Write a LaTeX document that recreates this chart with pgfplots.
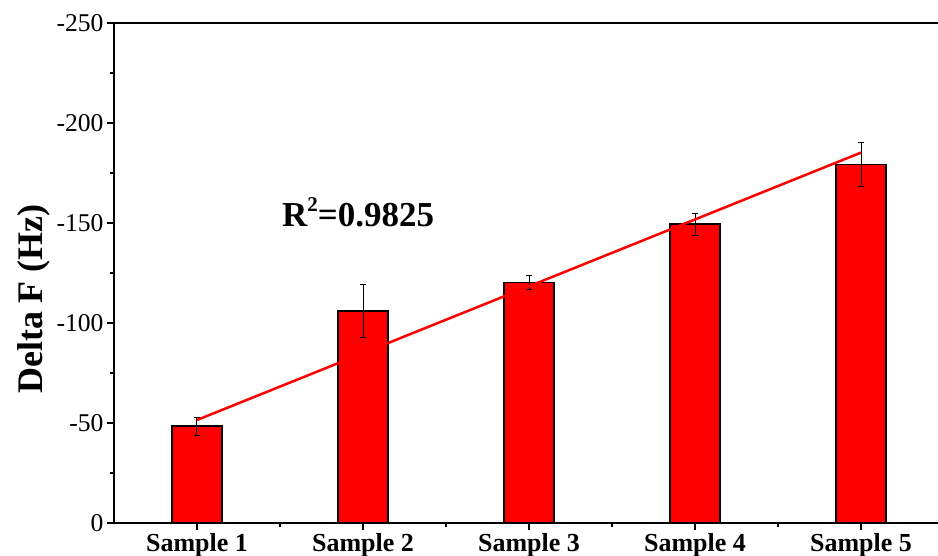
\documentclass[border=0pt]{standalone}
\usepackage{pgfplots}
\pgfplotsset{compat=1.18}
\usepackage{fontspec}
\setmainfont{Liberation Serif}
\begin{document}
\begin{tikzpicture}
\begin{axis}[
  scale only axis, width=830bp, height=500bp,
  xmin=0.5, xmax=5.5, ymin=-250, ymax=0, y dir=reverse,
  axis x line*=box, axis y line*=left,
  xtick={1,2,3,4,5},
  xticklabels={Sample 1,Sample 2,Sample 3,Sample 4,Sample 5},
  minor xtick={1.5,2.5,3.5,4.5,5.5},
  xtick pos=left, ytick pos=left,
  ytick={-250,-200,-150,-100,-50,0},
  yticklabels={-250,-200,-150,-100,-50,0},
  minor ytick={-225,-175,-125,-75,-25},
  tick align=outside, major tick length=7bp, minor tick length=4bp,
  every tick/.style={black, line width=1.5bp},
  axis line style={line width=2bp, black},
  yticklabel style={font=\fontsize{25.6bp}{30bp}\selectfont},
  xticklabel style={font=\fontsize{26bp}{30bp}\selectfont\bfseries},
  every axis y label/.style={at={([xshift=-64bp]rel axis cs:0,0.448)}, rotate=90, anchor=south, inner sep=0pt,
    font=\fontsize{36bp}{40bp}\selectfont\bfseries},
  ylabel={Delta F (Hz)},
  clip=false,
]
\addplot[ybar, bar width=50bp, fill=red, draw=black, line width=1.2bp,
  error bars/.cd, y dir=both, y explicit,
  error bar style={line width=1bp, black},
  error mark options={rotate=90, mark size=3bp, line width=1bp, black}]
  coordinates {
    (1,-48.5) +- (0,4.5)
    (2,-106) +- (0,13.2)
    (3,-120.3) +- (0,3.4)
    (4,-149.5) +- (0,5.5)
    (5,-179.3) +- (0,11)
  };
\addplot[red, line width=2.5bp, no marks] coordinates {(1,-51.5) (5,-185.2)};
\node[anchor=base west, inner sep=0pt, font=\fontsize{35bp}{40bp}\selectfont\bfseries]
  at (axis cs:1.512,-148.5) {R\raisebox{0.42em}{\fontsize{21bp}{24bp}\selectfont 2}=0.9825};
\coordinate (O) at (rel axis cs:0,0);
\end{axis}
\pgfresetboundingbox
\useasboundingbox ([shift={(-114bp,-33bp)}]O) rectangle ([shift={(824bp,523bp)}]O);
\end{tikzpicture}
\end{document}
